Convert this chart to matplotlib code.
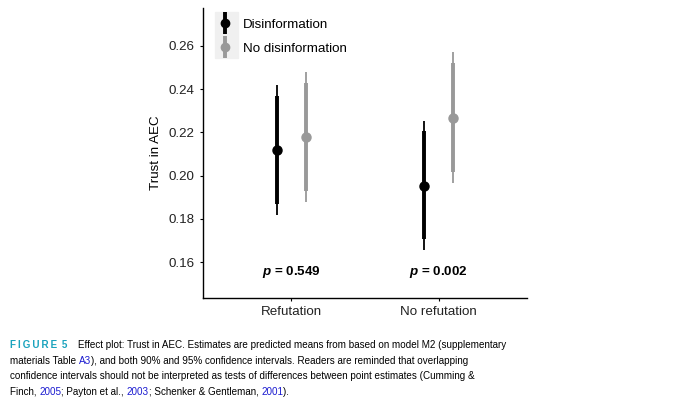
import numpy as np
import matplotlib
matplotlib.use('Agg')
import matplotlib.pyplot as plt
from matplotlib.lines import Line2D
from matplotlib.legend_handler import HandlerTuple
from matplotlib.patches import Rectangle

plt.rcParams['font.family'] = ['Liberation Sans', 'DejaVu Sans']
plt.rcParams['mathtext.fontset'] = 'custom'
plt.rcParams['mathtext.it'] = 'Liberation Sans:italic:bold'
plt.rcParams['mathtext.rm'] = 'Liberation Sans:bold'

# data --------------------------------------------------------
groups = ['Refutation', 'No refutation']
conditions = ['Disinformation', 'No disinformation']
means_dis = [0.212, 0.1953]
ci90_dis_lo = [0.187, 0.1705]
ci90_dis_hi = [0.237, 0.2205]
ci95_dis_lo = [0.182, 0.1655]
ci95_dis_hi = [0.242, 0.2253]
means_nodis = [0.218, 0.2268]
ci90_nodis_lo = [0.193, 0.2015]
ci90_nodis_hi = [0.243, 0.252]
ci95_nodis_lo = [0.188, 0.1965]
ci95_nodis_hi = [0.248, 0.257]
p_values = ['0.549', '0.002']
y_ticks = [0.16, 0.18, 0.20, 0.22, 0.24, 0.26]

cols = ['black', '#999999']
dodge = 0.1
fs = 9.6

fig = plt.figure(figsize=(6.8, 4.13), dpi=100)
ax = fig.add_axes([0.2985, 0.2785, 0.4765, 0.702])

x = np.arange(1, len(groups) + 1)
series = [
  (means_dis, ci90_dis_lo, ci90_dis_hi, ci95_dis_lo, ci95_dis_hi),
  (means_nodis, ci90_nodis_lo, ci90_nodis_hi, ci95_nodis_lo, ci95_nodis_hi),
]
for k, (m, l90, h90, l95, h95) in enumerate(series):
  xs = x + (k * 2 - 1) * dodge
  ax.vlines(xs, l95, h95, color=cols[k], lw=1.3)
  ax.vlines(xs, l90, h90, color=cols[k], lw=2.8)
  ax.plot(xs, m, 'o', color=cols[k], ms=6.5, zorder=3)

for xi, p in zip(x, p_values):
  ax.text(xi, 0.1555, r'$p$ = ' + p, ha='center', va='center',
          fontsize=fs, fontweight='bold')

ax.set_xlim(0.4, 2.6)
ax.set_ylim(0.1434, 0.2775)
ax.set_xticks(x)
ax.set_xticklabels(groups, fontsize=fs, color='#222222')
ax.set_yticks(y_ticks)
ax.set_yticklabels(['%.2f' % v for v in y_ticks], fontsize=fs, color='#222222')
ax.set_ylabel('Trust in AEC', fontsize=fs, labelpad=5)
ax.spines['top'].set_visible(False)
ax.spines['right'].set_visible(False)
ax.tick_params(length=2.5, width=0.8)
for s in ['left', 'bottom']:
  ax.spines[s].set_linewidth(1.0)

# legend (key background in grey like ggplot)
ax.add_patch(Rectangle((215 / 680, 1 - 58 / 413), 23 / 680, 46 / 413,
                       transform=fig.transFigure, color='#f0f0f0',
                       zorder=0.5, clip_on=False))
handles = []
for c in cols:
  handles.append((Line2D([], [], ls='', marker='|', ms=16, mew=2.8, color=c),
                  Line2D([], [], ls='', marker='o', ms=6, color=c)))
ax.legend(handles, conditions, handler_map={tuple: HandlerTuple(ndivide=1)},
          loc='upper left', bbox_to_anchor=(0.005, 1.005), frameon=False,
          fontsize=fs, handlelength=1.3, handletextpad=0.7, labelspacing=0.85)

# caption ------------------------------------------------------
teal = '#1aa3bd'
blue = '#1a1ad0'
cap_fs = 7.15
lines = [
  [('F\u2009I\u2009G\u2009U\u2009R\u2009E\u2009 5', teal, 'bold'),
   ('    Effect plot: Trust in AEC. Estimates are predicted means from based on model M2 (supplementary', 'black', 'normal')],
  [('materials Table ', 'black', 'normal'), ('A3', blue, 'normal'),
   ('), and both 90% and 95% confidence intervals. Readers are reminded that overlapping', 'black', 'normal')],
  [('confidence intervals should not be interpreted as tests of differences between point estimates (Cumming &', 'black', 'normal')],
  [('Finch, ', 'black', 'normal'), ('2005', blue, 'normal'), ('; Payton et al., ', 'black', 'normal'),
   ('2003', blue, 'normal'), ('; Schenker & Gentleman, ', 'black', 'normal'),
   ('2001', blue, 'normal'), (').', 'black', 'normal')],
]
y0 = 345
for i, segs in enumerate(lines):
  last = None
  for txt, c, w in segs:
    if last is None:
      last = fig.text(10 / 680, 1 - (y0 + i * 15.6) / 413, txt, color=c,
                      fontweight=w, fontsize=cap_fs, va='center')
    else:
      last = ax.annotate(txt, xy=(1, 0), xycoords=last, va='bottom',
                         ha='left', color=c, fontweight=w, fontsize=cap_fs,
                         annotation_clip=False)

fig.savefig('out.png', dpi=100)
